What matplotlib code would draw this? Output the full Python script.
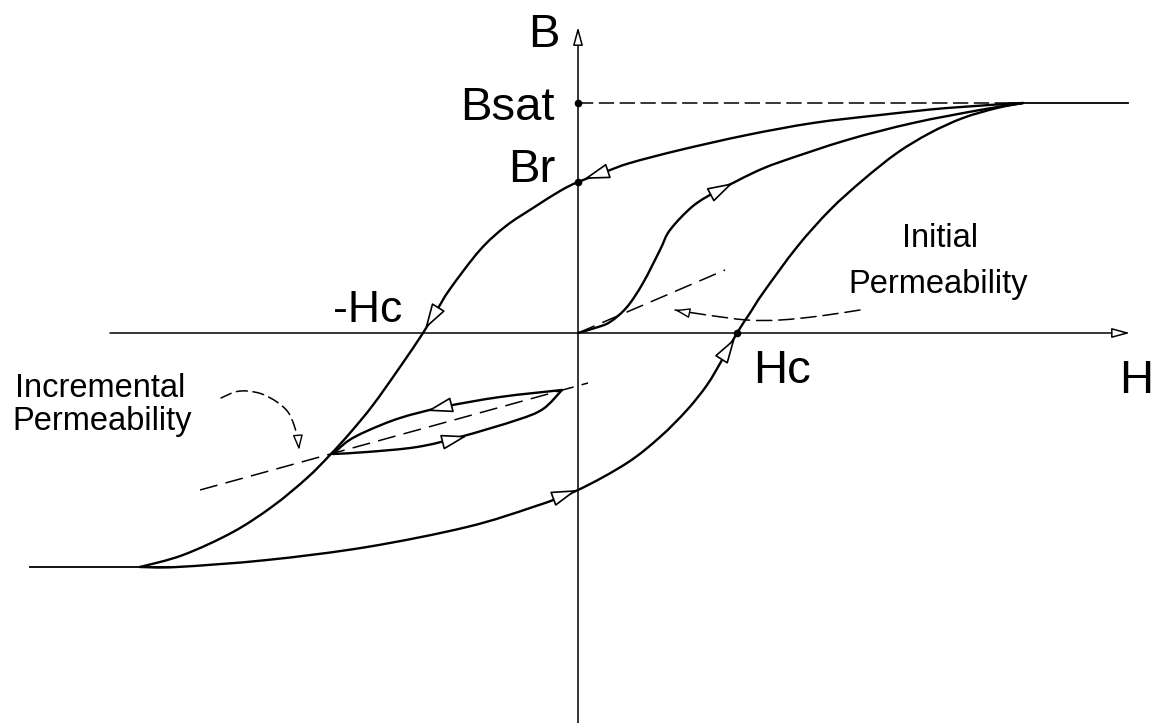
import matplotlib
matplotlib.use('Agg')
import matplotlib.pyplot as plt
from matplotlib.path import Path
from matplotlib.patches import PathPatch
import numpy as np

plt.rcParams['font.family'] = ['Liberation Sans', 'DejaVu Sans']
plt.rcParams['lines.scale_dashes'] = False

# ---- data (H, B in arbitrary units; origin at H=0, B=0) ----
B_SAT = 230
B_SAT_NEG = -234
B_R = 151
H_C = 159
H_C_NEG = -155

# descending (upper) branch, from +saturation to -saturation
upper_H = [445, 369, 302, 235, 169, 102, 52, 27, 0, -18, -45, -72, -98, -128, -141,
           -155, -178, -205, -228, -248, -271, -305, -345, -395, -438]
upper_B = [230, 225, 218, 210, 198, 183, 170, 161, 151, 142, 125, 107, 83, 44, 23,
           0, -34, -72, -100, -122, -145, -173, -199, -222, -234]

# ascending (lower) branch, from -saturation to +saturation
lower_H = [-438, -401, -311, -211, -111, -45, 0, 49, 82, 109, 129, 144, 159,
           172, 185, 219, 252, 285, 319, 352, 385, 419, 445]
lower_B = [-234, -234, -227, -214, -194, -174, -157, -130, -104, -77, -52, -27, 0,
           20, 40, 86, 123, 153, 180, 200, 215, 225, 230]

# initial magnetisation curve
init_H = [0, 17, 32, 49, 65, 82, 92, 115, 139, 155, 177, 202, 269, 335, 402, 445]
init_B = [0, 5, 11, 26, 50, 83, 103, 127, 142, 150, 161, 171, 193, 210, 223, 230]

# incremental minor loop
loop_up_H = [-16, -78, -135, -178, -211, -230, -245]
loop_up_B = [-57, -64, -74, -85, -98, -108, -121]
loop_lo_H = [-245, -211, -161, -118, -61, -35, -16]
loop_lo_B = [-121, -119, -114, -104, -87, -76, -57]

# permeability tangent lines
init_perm_H = [0, 147]
init_perm_B = [0, 63]
incr_perm_H = [-378, 10]
incr_perm_B = [-157, -50]

# curved pointer arrows (dashed)
arc1_H = [282, 242, 202, 169, 129, 97]
arc1_B = [23, 17, 13, 13, 18, 23]
arc2_H = [-357, -343, -331, -316, -301, -290, -284, -280, -279]
arc2_B = [-65, -59, -58, -61, -69, -79, -92, -107, -117]

# direction arrowheads on the curves: (tip, base)
arrow_tip_H = [6, 155, -153, 157, -1, -151, -111]
arrow_tip_B = [154, 150, 4, -5, -157, -78, -103]
arrow_base_H = [27, 136, -145, 145, -20, -131, -131]
arrow_base_B = [161, 140, 17, -24, -164, -73, -108]


def smooth_curve(ax, xs, ys, **kw):
    """Draw a smooth cubic Bezier path passing through the given points."""
    p = np.column_stack([xs, ys]).astype(float)
    n = len(p)
    verts = [p[0]]
    codes = [Path.MOVETO]
    for i in range(n - 1):
        p0 = p[i - 1] if i > 0 else p[i]
        p1 = p[i]
        p2 = p[i + 1]
        p3 = p[i + 2] if i + 2 < n else p[i + 1]
        c1 = p1 + (p2 - p0) / 6.0
        c2 = p2 - (p3 - p1) / 6.0
        verts += [c1, c2, p2]
        codes += [Path.CURVE4] * 3
    patch = PathPatch(Path(verts, codes), fill=False, capstyle='round',
                      joinstyle='round', **kw)
    ax.add_patch(patch)
    return patch


# ---- figure ----
fig = plt.figure(figsize=(11.61, 7.23), dpi=100)
ax = fig.add_axes([0, 0, 1, 1])
ax.set_xlim(-578, 583)
ax.set_ylim(-390, 333)
ax.axis('off')

K = 'black'
lw_curve = 1.7
lw_axis = 1.1

# axes with open arrowheads
axis_arrow = dict(arrowstyle='-|>,head_length=1.1,head_width=0.3', mutation_scale=10,
                  fc='white', ec=K, lw=lw_axis, shrinkA=0, shrinkB=0)
ax.annotate('', xy=(552, 0), xytext=(-468, 0), arrowprops=axis_arrow)
ax.annotate('', xy=(0, 306), xytext=(0, -390), arrowprops=axis_arrow)

# saturation lines
ax.plot([0, 432], [B_SAT, B_SAT], color=K, lw=1.1, dashes=(11, 4))
ax.plot([432, 550], [B_SAT, B_SAT], color=K, lw=1.3)
ax.plot([-548, -400], [B_SAT_NEG, B_SAT_NEG], color=K, lw=1.3)

# main curves
for hs, bs in [(upper_H, upper_B), (lower_H, lower_B), (init_H, init_B),
               (loop_up_H, loop_up_B), (loop_lo_H, loop_lo_B)]:
    smooth_curve(ax, hs, bs, edgecolor=K, lw=lw_curve)

# tangent (permeability) lines
ax.plot(init_perm_H, init_perm_B, color=K, lw=1.1, dashes=(13, 6))
ax.plot(incr_perm_H, incr_perm_B, color=K, lw=1.1, dashes=(13, 6))

# curved dashed pointers
smooth_curve(ax, arc1_H, arc1_B, edgecolor=K, lw=1.1, linestyle=(0, (11, 5)))
smooth_curve(ax, arc2_H, arc2_B, edgecolor=K, lw=1.1, linestyle=(0, (8, 4)))
small_arrow = dict(arrowstyle='-|>,head_length=0.9,head_width=0.3', mutation_scale=10,
                   fc='white', ec=K, lw=1.0, shrinkA=0, shrinkB=0)
ax.annotate('', xy=(arc1_H[-1], arc1_B[-1]), xytext=(111, 20), arrowprops=small_arrow)
ax.annotate('', xy=(arc2_H[-1], arc2_B[-1]), xytext=(-280, -104), arrowprops=small_arrow)

# direction arrowheads
dir_arrow = dict(arrowstyle='-|>,head_length=0.8,head_width=0.24', mutation_scale=20,
                 fc='white', ec=K, lw=1.2, shrinkA=0, shrinkB=0)
for th, tb, bh, bb in zip(arrow_tip_H, arrow_tip_B, arrow_base_H, arrow_base_B):
    ax.annotate('', xy=(th, tb), xytext=(bh, bb), arrowprops=dir_arrow)

# marked points
ax.plot([0, 0, H_C], [B_SAT, B_R, 0], 'o', color=K, ms=4.5, zorder=5)

# labels
big = 34
ax.text(-18, 286, 'B', fontsize=big, ha='right', va='baseline')
ax.text(-23, 213, 'Bsat', fontsize=big, ha='right', va='baseline')
ax.text(-23, 151, 'Br', fontsize=big, ha='right', va='baseline')
ax.text(-245, 11, '-Hc', fontsize=32, ha='left', va='baseline')
ax.text(175, -50, 'Hc', fontsize=big, ha='left', va='baseline')
ax.text(541, -60, 'H', fontsize=big, ha='left', va='baseline')

small = 23.5
ax.text(362, 86, 'Initial', fontsize=small, ha='center', va='baseline')
ax.text(360, 40, 'Permeability', fontsize=small, ha='center', va='baseline')
ax.text(-478, -64, 'Incremental', fontsize=small, ha='center', va='baseline')
ax.text(-476, -97, 'Permeability', fontsize=small, ha='center', va='baseline')

fig.savefig('out.png', dpi=100)
